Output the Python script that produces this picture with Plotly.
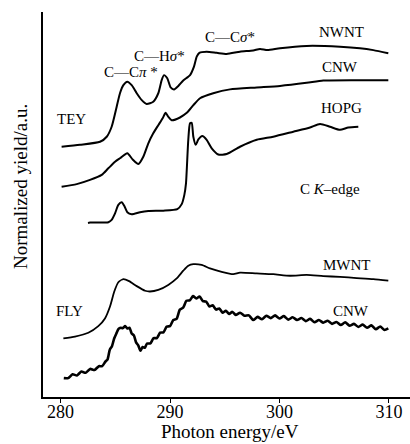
import plotly.graph_objects as go

# ---------------- data (photon energy in eV, normalized yield in a.u. incl. vertical offsets) -------------
nwnt_e = [280.1, 281.78, 283.61, 284.22, 284.67, 285.13, 285.43, 285.74, 286.1, 286.5, 286.96, 287.42,
          287.87, 288.47, 288.93, 289.24, 289.45, 289.75, 290.06, 290.37, 290.76, 291.21, 291.83, 292.19,
          292.44, 292.68, 293.35, 294.26, 295.18, 296.39, 297.6, 298.22, 298.9, 300.05, 302.48, 305.53,
          307.35, 308.57, 309.94]
nwnt_y = [6.50, 6.55, 6.63, 6.76, 7.02, 7.54, 7.89, 8.10, 8.19, 8.10, 7.89, 7.71,
          7.61, 7.67, 7.89, 8.23, 8.36, 8.28, 8.04, 7.99, 8.08, 8.22, 8.36, 8.58,
          8.84, 8.94, 8.97, 8.94, 8.91, 8.97, 9.00, 9.04, 9.01, 9.06, 9.12, 9.10,
          9.06, 9.01, 8.93]

cnw_tey_e = [280.1, 281.48, 282.69, 283.76, 284.37, 284.98, 285.43, 286.1, 286.59, 287.11, 287.56, 288.02,
             288.47, 288.93, 289.33, 289.6, 289.84, 290.15, 290.91, 291.53, 292.13, 292.74, 293.95, 295.48,
             297.92, 300.05, 302.48, 304.0, 307.05, 309.94]
cnw_tey_y = [5.46, 5.53, 5.64, 5.77, 5.94, 6.11, 6.20, 6.33, 6.17, 6.05, 6.24, 6.59,
             6.85, 7.06, 7.24, 7.38, 7.28, 7.19, 7.26, 7.38, 7.58, 7.76, 7.89, 7.99,
             8.04, 8.08, 8.16, 8.22, 8.23, 8.23]

hopg_e = [282.51, 282.69, 284.37, 284.67, 284.98, 285.28, 285.59, 285.83, 286.1, 286.5, 287.26, 288.02,
          289.39, 290.67, 291.07, 291.31, 291.46, 291.67, 291.83, 291.98, 292.13, 292.35, 292.59, 292.95,
          293.35, 293.81, 294.41, 295.18, 296.39, 297.92, 299.43, 301.26, 302.79, 303.7, 304.61, 305.53,
          306.28, 307.2]
hopg_y = [4.52, 4.53, 4.54, 4.60, 4.77, 4.99, 5.06, 4.96, 4.80, 4.75, 4.80, 4.83,
          4.84, 4.88, 5.01, 5.25, 5.55, 6.68, 7.11, 7.12, 6.76, 6.55, 6.69, 6.78,
          6.68, 6.46, 6.30, 6.31, 6.50, 6.68, 6.76, 6.89, 7.00, 7.09, 7.02, 6.94,
          7.00, 7.02]

mwnt_e = [280.26, 281.32, 282.54, 283.45, 284.06, 284.52, 284.91, 285.28, 285.74, 286.26, 286.96, 287.72,
          288.17, 288.93, 289.84, 290.61, 291.21, 291.67, 292.13, 292.89, 293.65, 294.72, 295.78, 296.39,
          297.92, 299.43, 300.96, 302.48, 304.0, 305.53, 307.05, 308.57, 309.94]
mwnt_y = [1.52, 1.57, 1.67, 1.84, 2.04, 2.35, 2.74, 2.98, 3.06, 3.01, 2.88, 2.76,
          2.74, 2.78, 2.91, 3.08, 3.28, 3.41, 3.45, 3.43, 3.34, 3.25, 3.19, 3.23,
          3.21, 3.19, 3.15, 3.17, 3.14, 3.12, 3.09, 3.06, 3.02]

cnw_fly_e = [280.3, 280.7, 281.1, 281.5, 281.9, 282.3, 282.7, 283.1, 283.5, 283.8, 284.1, 284.3,
             284.5, 284.7, 284.9, 285.1, 285.3, 285.5, 285.7, 285.9, 286.1, 286.3, 286.5, 286.7,
             286.9, 287.1, 287.3, 287.5, 287.7, 287.9, 288.2, 288.5, 288.8, 289.1, 289.4, 289.7,
             290.0, 290.3, 290.6, 290.9, 291.2, 291.5, 291.8, 292.1, 292.4, 292.7, 293.0, 293.3,
             293.6, 293.9, 294.2, 294.5, 294.8, 295.1, 295.4, 295.7, 296.0, 296.4, 296.8, 297.2,
             297.6, 298.0, 298.4, 298.8, 299.2, 299.6, 300.0, 300.4, 300.8, 301.2, 301.6, 302.0,
             302.4, 302.8, 303.2, 303.6, 304.0, 304.4, 304.8, 305.2, 305.6, 306.0, 306.4, 306.8,
             307.2, 307.6, 308.0, 308.4, 308.8, 309.2, 309.6, 309.94]
cnw_fly_y = [0.49, 0.49, 0.59, 0.56, 0.66, 0.63, 0.73, 0.70, 0.80, 0.80, 0.92, 0.98,
             1.23, 1.32, 1.52, 1.65, 1.77, 1.80, 1.79, 1.84, 1.78, 1.80, 1.65, 1.60,
             1.42, 1.34, 1.20, 1.30, 1.28, 1.39, 1.39, 1.53, 1.53, 1.67, 1.68, 1.83,
             1.84, 2.00, 2.03, 2.27, 2.32, 2.50, 2.51, 2.62, 2.56, 2.61, 2.49, 2.48,
             2.35, 2.38, 2.27, 2.30, 2.19, 2.24, 2.16, 2.21, 2.13, 2.19, 2.11, 2.12,
             2.00, 2.08, 2.02, 2.11, 2.05, 2.12, 2.04, 2.10, 2.01, 2.07, 2.00, 2.05,
             1.97, 2.03, 1.94, 2.00, 1.93, 1.98, 1.90, 1.95, 1.87, 1.94, 1.85, 1.90,
             1.82, 1.88, 1.80, 1.86, 1.76, 1.83, 1.74, 1.78]

x_ticks = [280, 290, 300, 310]

# label texts with positions (energy, yield)
labels = [
    ("NWNT", 305.7, 9.47),
    ("CNW", 305.57, 8.57),
    ("HOPG", 305.7, 7.50),
    ("C <i>K</i>–edge", 304.6, 5.40),
    ("TEY", 280.96, 7.22),
    ("C—C<i>π</i> *", 286.45, 8.45),
    ("C—H<i>σ</i>*", 289.05, 8.87),
    ("C—C<i>σ</i>*", 295.5, 9.36),
    ("MWNT", 306.2, 3.44),
    ("FLY", 280.82, 2.23),
    ("CNW", 306.5, 2.23),
]

FONT = "Liberation Serif"

fig = go.Figure()
series = [
    (nwnt_e, nwnt_y, 2.0),
    (cnw_tey_e, cnw_tey_y, 2.0),
    (hopg_e, hopg_y, 2.0),
    (mwnt_e, mwnt_y, 1.8),
    (cnw_fly_e, cnw_fly_y, 2.6),
]
for xs, ys, w in series:
    fig.add_trace(go.Scatter(x=xs, y=ys, mode="lines",
                             line=dict(color="black", width=w, shape="spline", smoothing=0.6),
                             showlegend=False, hoverinfo="skip"))

for text, xv, yv in labels:
    fig.add_annotation(x=xv, y=yv, xref="x", yref="y", text=text, showarrow=False,
                       font=dict(family=FONT, size=15, color="black"),
                       xanchor="center", yanchor="middle")

fig.add_annotation(x=(230 - 43) / 367, y=(397 - 431) / 385, xref="paper", yref="paper",
                   text="Photon energy/eV", showarrow=False, xanchor="center", yanchor="middle",
                   font=dict(family=FONT, size=19, color="black"))
fig.add_annotation(x=(20 - 43) / 367, y=(397 - 187) / 385, xref="paper", yref="paper",
                   text="Normalized yield/a.u.", showarrow=False, textangle=-90,
                   xanchor="center", yanchor="middle",
                   font=dict(family=FONT, size=19, color="black"))

fig.update_layout(
    width=410, height=444,
    margin=dict(l=43, r=0, t=12, b=47),
    paper_bgcolor="white", plot_bgcolor="white",
    xaxis=dict(range=[278.4, 311.92], tickvals=x_ticks, ticktext=[str(t) for t in x_ticks],
               showline=True, linecolor="black", linewidth=1.5, ticks="outside",
               ticklen=4, tickwidth=1, tickcolor="black", showgrid=False, zeroline=False,
               ticklabelstandoff=-6,
               tickfont=dict(family=FONT, size=18, color="black")),
    yaxis=dict(range=[0, 10], showline=True, linecolor="black", linewidth=1.5,
               showticklabels=False, ticks="", showgrid=False, zeroline=False),
)

fig.write_html("out.html")
